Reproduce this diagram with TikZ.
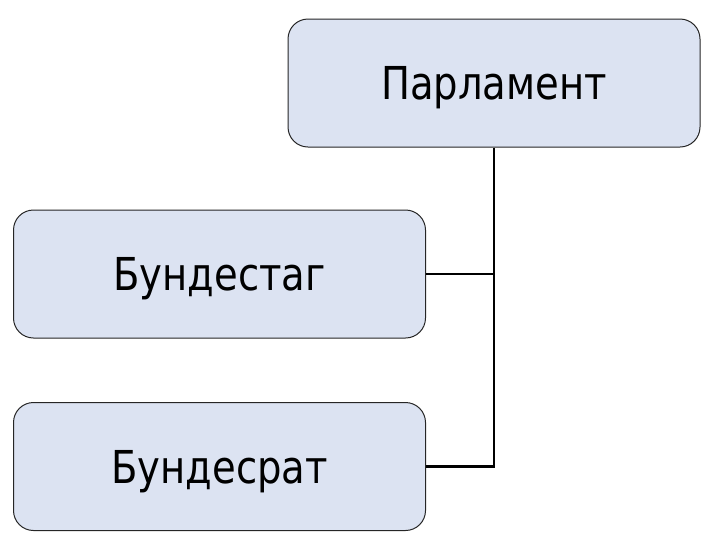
\documentclass[tikz,border=0pt]{standalone}
\usepackage{fontspec}
\setmainfont{DejaVu Sans}[FakeStretch=0.85]
\begin{document}
\begin{tikzpicture}[x=0.75pt,y=-0.75pt,
  box/.style={draw=black!85, line width=0.75pt, fill={rgb,255:red,220;green,227;blue,242},
    rounded corners=15pt, minimum width=309pt, minimum height=96pt, inner sep=0pt,
    text height=24.8pt, text depth=0pt,
    font=\fontsize{34}{40}\selectfont},
  conn/.style={draw=black, line width=1.6pt}]
\useasboundingbox (0,0) rectangle (720,540);
\node[box] (parl) at (494,83) {Парламент};
\node[box] (tag) at (219.5,274) {Бундестаг};
\node[box] (rat) at (219.5,466.5) {Бундесрат};
\draw[conn] (parl.south) |- (rat.east);
\draw[conn] (tag.east) -- (tag.east -| parl.south);
\end{tikzpicture}
\end{document}
